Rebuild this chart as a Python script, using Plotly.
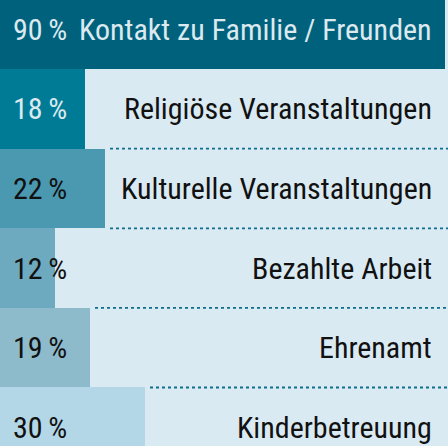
import plotly.graph_objects as go

# Werte von oben nach unten
categories = ["Kontakt zu Familie / Freunden", "Religiöse Veranstaltungen",
              "Kulturelle Veranstaltungen", "Bezahlte Arbeit", "Ehrenamt",
              "Kinderbetreuung"]
values = [90, 18, 22, 12, 19, 30]
pct_labels = ["90\u2009%", "18\u2009%", "22\u2009%", "12\u2009%", "19\u2009%", "30\u2009%"]

bar_colors = ["#00617d", "#007b96", "#4b98b1", "#6eaabf", "#8ebbcc", "#b3d7e7"]
pct_colors = ["#dce9ef", "#dce9ef", "#111111", "#111111", "#111111", "#111111"]
label_colors = ["#dce9ef", "#111111", "#111111", "#111111", "#111111", "#111111"]
bg = "#daeaf3"
font_family = "Roboto Condensed"

idx = list(range(len(categories)))

fig = go.Figure()
fig.add_trace(go.Bar(
    x=values, y=idx, orientation="h", base=0,
    marker=dict(color=bar_colors, line=dict(width=0)),
    hoverinfo="skip",
))

# gepunktete Trennlinien zwischen den Zeilen (nicht unter der ersten Zeile)
for i in range(1, len(values) - 1):
    start = max(values[i], values[i + 1]) + 1
    fig.add_shape(type="line", xref="x", yref="y",
                  x0=start, x1=100, y0=i + 0.5, y1=i + 0.5,
                  line=dict(color="#0f6e8b", width=1.8, dash="dot"))

for i in idx:
    fig.add_annotation(x=0.152, xref="paper", y=i, yref="y", text=pct_labels[i],
                       xanchor="right", yanchor="middle", showarrow=False, borderpad=0,
                       font=dict(family=font_family, size=30, color=pct_colors[i]))
    fig.add_annotation(x=0.966, xref="paper", y=i, yref="y", text=categories[i],
                       xanchor="right", yanchor="middle", showarrow=False, borderpad=0,
                       font=dict(family=font_family, size=30, color=label_colors[i]))

fig.update_layout(
    width=448, height=446,
    margin=dict(l=0, r=0, t=0, b=0),
    paper_bgcolor=bg, plot_bgcolor=bg,
    bargap=0, showlegend=False,
    xaxis=dict(range=[1, 90.6], visible=False, fixedrange=True),
    yaxis=dict(range=[5.235, -0.368], visible=False, fixedrange=True),
)

# Standard-Rand des Browsers entfernen, damit die Grafik bündig sitzt
fig.write_html("out.html", config={"displayModeBar": False},
               post_script="document.body.style.margin='0';")
